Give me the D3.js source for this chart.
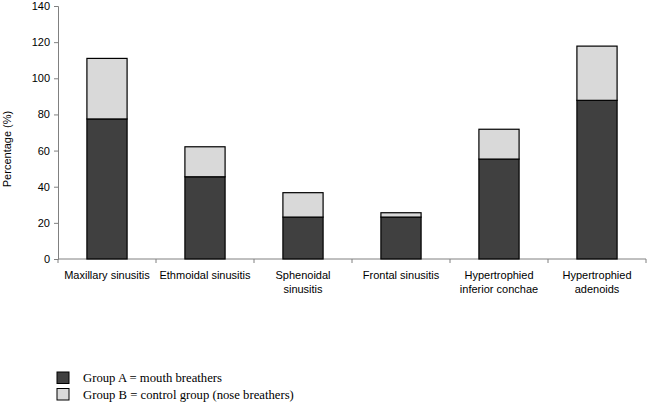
<!DOCTYPE html>
<html><head><meta charset="utf-8">
<script src="https://cdn.jsdelivr.net/npm/d3@7"></script>
<style>body{margin:0;background:#fff}svg{display:block}</style>
</head><body>
<svg id="c" width="647" height="404"></svg>
<script>
const categories = [["Maxillary sinusitis"],["Ethmoidal sinusitis"],["Sphenoidal","sinusitis"],["Frontal sinusitis"],["Hypertrophied","inferior conchae"],["Hypertrophied","adenoids"]];
const groupA = [77.5, 45.5, 23.2, 23.2, 55.3, 87.8];
const groupB = [33.5, 16.6, 13.5, 2.4, 16.5, 30.0];
const yTicks = [0,20,40,60,80,100,120,140];
const legendLabels = ["Group A = mouth breathers","Group B = control group (nose breathers)"];
const colors = ["#404040","#d9d9d9"];

const svg = d3.select("#c");
const x = d3.scaleBand().domain(d3.range(categories.length)).range([58,646]).paddingInner(0.59).paddingOuter(0.295);
const y = d3.scaleLinear().domain([0,140]).range([259,6]);

// axes
const ya = svg.append("g").attr("transform","translate(58,0)")
  .call(d3.axisLeft(y).tickValues(yTicks).tickSize(4).tickPadding(4));
ya.selectAll("text").style("font-family","Liberation Sans, Arial").style("font-size","11px").attr("fill","#000");
ya.selectAll("path,line").attr("stroke","#808080");

const xa = svg.append("g").attr("transform","translate(0,259)");
xa.append("line").attr("x1",58).attr("x2",646).attr("stroke","#808080");
const bounds = d3.range(categories.length+1).map(i=> i<categories.length ? x(i)-x.step()*x.paddingInner()/2 : x(i-1)+x.bandwidth()+x.step()*x.paddingInner()/2);
xa.selectAll("line.t").data(bounds).join("line").attr("class","t")
  .attr("x1",d=>d).attr("x2",d=>d).attr("y1",0).attr("y2",4).attr("stroke","#808080");

// bars
const stackData = categories.map((c,i)=>({i, a:groupA[i], b:groupB[i]}));
const stack = d3.stack().keys(["a","b"])(stackData);
svg.append("g").selectAll("g").data(stack).join("g").attr("fill",(d,k)=>colors[k])
  .selectAll("rect").data(d=>d).join("rect")
  .attr("x",d=>x(d.data.i)).attr("width",x.bandwidth())
  .attr("y",d=>y(d[1])).attr("height",d=>y(d[0])-y(d[1]))
  .attr("stroke","#000").attr("stroke-width",1.2);

// category labels
const cl = svg.append("g").style("font-family","Liberation Sans, Arial").style("font-size","11px");
categories.forEach((lines,i)=>{
  const t = cl.append("text").attr("x",x(i)+x.bandwidth()/2).attr("y",279).attr("text-anchor","middle");
  lines.forEach((l,j)=>t.append("tspan").attr("x",x(i)+x.bandwidth()/2).attr("dy",j?14:0).text(l));
});

// y label
svg.append("text").attr("transform","translate(11,149) rotate(-90)").attr("text-anchor","middle")
  .style("font-family","Liberation Sans, Arial").style("font-size","11px").text("Percentage (%)");

// legend
const lg = svg.append("g");
legendLabels.forEach((l,k)=>{
  lg.append("rect").attr("x",57).attr("y",372+k*16.5).attr("width",12).attr("height",11.5)
    .attr("fill",colors[k]).attr("stroke","#000").attr("stroke-width",1);
  lg.append("text").attr("x",83).attr("y",382+k*16.5).style("font-family","Liberation Serif, Times New Roman")
    .style("font-size","12.7px").text(l);
});
</script>
</body></html>
